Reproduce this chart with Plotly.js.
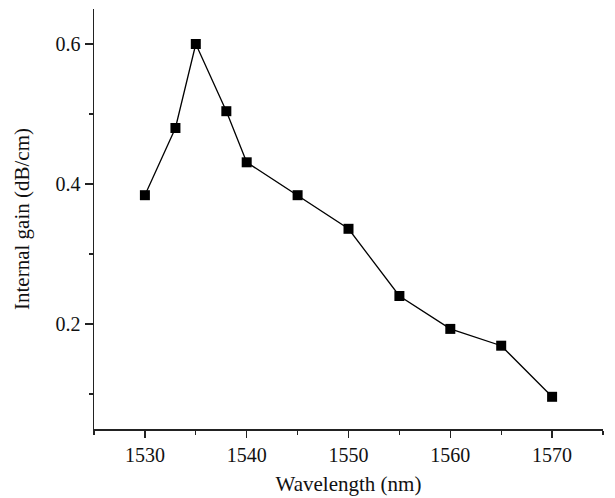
<!DOCTYPE html>
<html>
<head>
<meta charset="utf-8">
<script src="https://cdn.plot.ly/plotly-3.0.1.min.js"></script>
<style>html,body{margin:0;padding:0;background:#fff;}#chart{width:615px;height:498px;}</style>
</head>
<body>
<div id="chart"></div>
<script>
const wavelength = [1530, 1533, 1535, 1538, 1540, 1545, 1550, 1555, 1560, 1565, 1570];
const gain = [0.384, 0.48, 0.6, 0.504, 0.431, 0.384, 0.336, 0.24, 0.193, 0.169, 0.096];

const tickFont = {family: '"Liberation Serif", "DejaVu Serif", serif', size: 20, color: '#111'};
const titleFont = {family: '"Liberation Serif", "DejaVu Serif", serif', size: 21, color: '#111'};

const trace = {
  x: wavelength, y: gain, type: 'scatter', mode: 'lines+markers',
  line: {color: '#000', width: 1.3},
  marker: {symbol: 'square', size: 10, color: '#000'},
  showlegend: false
};

const layout = {
  width: 615, height: 498,
  margin: {l: 94, r: 12, t: 9, b: 69},
  paper_bgcolor: '#fff', plot_bgcolor: '#fff',
  font: tickFont,
  xaxis: {
    range: [1525, 1575], tick0: 1530, dtick: 10,
    showgrid: false, zeroline: false,
    showline: true, linecolor: '#222', linewidth: 1.5,
    ticks: 'outside', ticklen: 7, tickwidth: 1.3, tickcolor: '#222',
    minor: {ticks: 'outside', ticklen: 4, dtick: 5, tick0: 1525, tickcolor: '#222', tickwidth: 1.3, showgrid: false},
    title: {text: 'Wavelength (nm)', font: titleFont, standoff: 12},
    tickfont: tickFont
  },
  yaxis: {
    range: [0.05, 0.65], tick0: 0, dtick: 0.2,
    showgrid: false, zeroline: false,
    showline: true, linecolor: '#222', linewidth: 1.5,
    ticks: 'outside', ticklen: 8, tickwidth: 1.3, tickcolor: '#222',
    minor: {ticks: 'outside', ticklen: 4, dtick: 0.1, tick0: 0, tickcolor: '#222', tickwidth: 1.3, showgrid: false},
    title: {text: 'Internal gain (dB/cm)\u00a0\u00a0\u00a0\u00a0\u00a0\u00a0\u00a0', font: titleFont, standoff: 20},
    tickfont: tickFont
  }
};

Plotly.newPlot('chart', [trace], layout, {displayModeBar: false, staticPlot: true});
</script>
</body>
</html>
